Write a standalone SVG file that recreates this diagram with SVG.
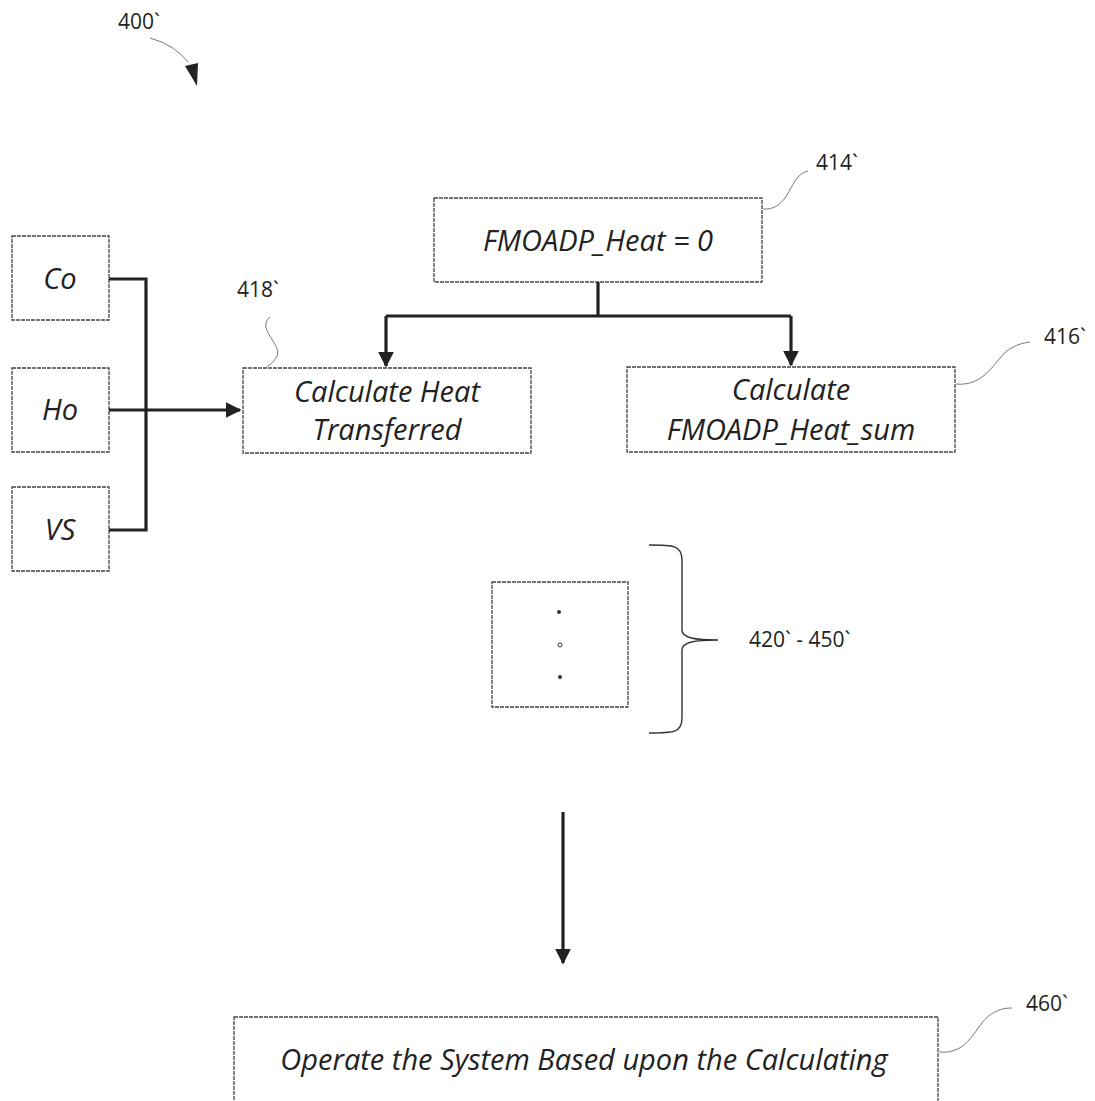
<svg xmlns="http://www.w3.org/2000/svg" width="1095" height="1101" viewBox="0 0 1095 1101">
<style>
.box{fill:#fff;stroke:#444;stroke-width:1.3;stroke-dasharray:4 1}
.t{font-family:"Open Sans","Liberation Sans",sans-serif;font-style:italic;font-size:29px;fill:#222;text-anchor:middle}
.lbl{font-family:"Open Sans","Liberation Sans",sans-serif;font-size:21px;fill:#222}
.lead{fill:none;stroke:#777;stroke-width:1}
.conn{fill:none;stroke:#222;stroke-width:3.2}
</style>
<defs>
<marker id="ah" viewBox="0 0 10 10" refX="9" refY="5" markerWidth="5" markerHeight="5" orient="auto" markerUnits="strokeWidth">
<path d="M0,0 L10,5 L0,10 z" fill="#222"/>
</marker>
</defs>
<rect width="1095" height="1101" fill="#fff"/>

<g id="ref400">
<text class="lbl" x="118" y="29">400`</text>
<path class="lead" d="M150,38 Q175,45 188,62"/>
<path d="M185,66 L198,63 L197,86 z" fill="#222"/>
</g>

<g id="n414">
<rect class="box" x="434" y="198" width="328" height="84"/>
<text class="t" x="598" y="251">FMOADP_Heat = 0</text>
<path class="lead" d="M763,209 C785,211 790,185 798,177 C801,174 804,172 808,171"/>
<text class="lbl" x="816" y="170">414`</text>
</g>

<g id="n418">
<rect class="box" x="243" y="368" width="288" height="85"/>
<text class="t" x="387" y="402">Calculate Heat</text>
<text class="t" x="387" y="440">Transferred</text>
<path class="lead" d="M270,317 C255,330 285,345 276,358 C273,363 268,366 265,368"/>
<text class="lbl" x="237" y="297">418`</text>
</g>

<g id="n416">
<rect class="box" x="627" y="367" width="328" height="85"/>
<text class="t" x="791" y="400">Calculate</text>
<text class="t" x="791" y="440">FMOADP_Heat_sum</text>
<path class="lead" d="M956,384 C985,387 995,360 1008,350 C1016,345 1022,343 1030,342"/>
<text class="lbl" x="1044" y="344">416`</text>
</g>

<g id="nCo">
<rect class="box" x="12" y="236" width="97" height="84"/>
<text class="t" x="60" y="289">Co</text>
</g>
<g id="nHo">
<rect class="box" x="12" y="368" width="97" height="84"/>
<text class="t" x="60" y="420">Ho</text>
</g>
<g id="nVS">
<rect class="box" x="12" y="487" width="97" height="84"/>
<text class="t" x="60" y="540">VS</text>
</g>

<g id="nDots">
<rect class="box" x="492" y="582" width="136" height="125"/>
<circle cx="559" cy="612" r="2" fill="#333"/>
<circle cx="560" cy="645" r="2" fill="none" stroke="#333" stroke-width="1"/>
<circle cx="560" cy="677" r="2" fill="#333"/>
</g>

<g id="brace">
<path d="M649,545 C673,545 682,545 682,560 L682,630 C682,638 695,640 718,640 M649,733 C673,733 682,733 682,718 L682,650 C682,642 695,640 718,640" fill="none" stroke="#333" stroke-width="1.4"/>
<text class="lbl" x="749" y="647">420` - 450`</text>
</g>

<g id="n460">
<rect class="box" x="234" y="1017" width="704" height="100"/>
<text class="t" x="584" y="1070">Operate the System Based upon the Calculating</text>
<path class="lead" d="M939,1052 C970,1055 975,1025 990,1015 C997,1010 1003,1008 1012,1008"/>
<text class="lbl" x="1026" y="1011">460`</text>
</g>

<g id="connectors">
<path class="conn" d="M109,279 H146 V530 H109"/>
<path class="conn" d="M109,410 H240" marker-end="url(#ah)"/>
<path class="conn" d="M598,282 V316 M386,316 H791"/>
<path class="conn" d="M386,316 V366" marker-end="url(#ah)"/>
<path class="conn" d="M791,316 V365" marker-end="url(#ah)"/>
<path class="conn" d="M563,812 V963" marker-end="url(#ah)"/>
</g>
</svg>
